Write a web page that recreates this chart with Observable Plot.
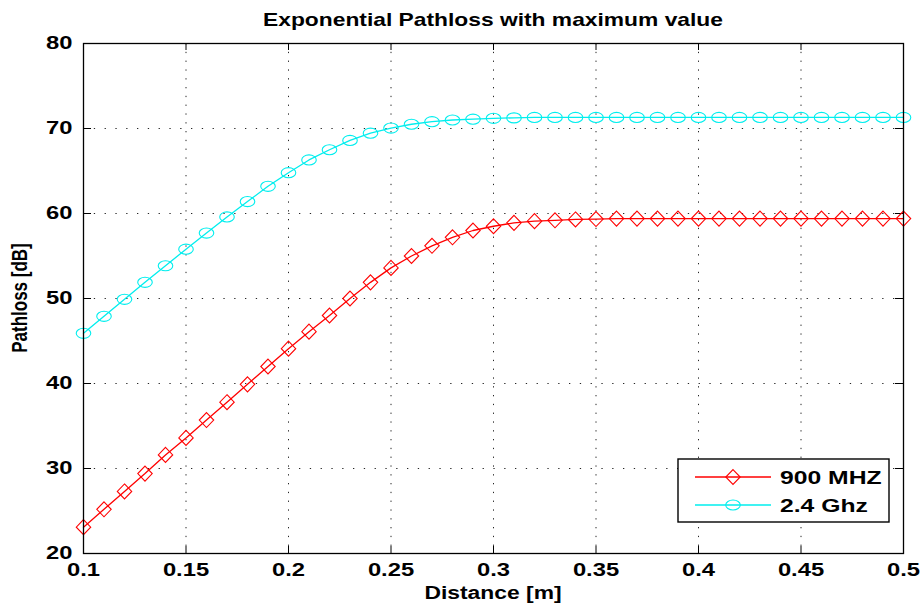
<!DOCTYPE html>
<html><head><meta charset="utf-8">
<script src="https://cdn.jsdelivr.net/npm/d3@7"></script>
<script src="https://cdn.jsdelivr.net/npm/@observablehq/plot@0.6"></script>
<style>
html,body{margin:0;padding:0;background:#fff;overflow:hidden}
#wrap{position:relative;width:922px;height:605px}
#wrap svg{position:absolute;left:0;top:0}
</style></head><body><div id="wrap"></div>
<script>
// ---- data ----
const distance = [0.10,0.11,0.12,0.13,0.14,0.15,0.16,0.17,0.18,0.19,0.20,0.21,0.22,0.23,0.24,0.25,0.26,0.27,0.28,0.29,0.30,0.31,0.32,0.33,0.34,0.35,0.36,0.37,0.38,0.39,0.40,0.41,0.42,0.43,0.44,0.45,0.46,0.47,0.48,0.49,0.50];
const pathloss900 = [23.1,25.2,27.3,29.4,31.6,33.6,35.7,37.8,39.9,42.0,44.1,46.1,48.0,50.0,51.9,53.6,55.0,56.2,57.2,58.0,58.5,58.9,59.1,59.2,59.3,59.35,59.4,59.4,59.4,59.4,59.4,59.4,59.4,59.4,59.4,59.4,59.4,59.4,59.4,59.4,59.4];
const pathloss24 = [45.9,47.9,49.9,51.9,53.85,55.8,57.7,59.6,61.4,63.2,64.8,66.3,67.5,68.6,69.45,70.05,70.5,70.8,71.0,71.1,71.2,71.25,71.3,71.3,71.3,71.3,71.3,71.3,71.3,71.3,71.3,71.3,71.3,71.3,71.3,71.3,71.3,71.3,71.3,71.3,71.3];
const seriesNames = ["900 MHZ", "2.4 Ghz"];
const seriesColors = ["#ff0000", "#00eeee"];
const xTicks = [0.1,0.15,0.2,0.25,0.3,0.35,0.4,0.45,0.5];
const xTickLabels = ["0.1","0.15","0.2","0.25","0.3","0.35","0.4","0.45","0.5"];
const yTicks = [20,30,40,50,60,70,80];
const yTickLabels = ["20","30","40","50","60","70","80"];
const titleText = "Exponential Pathloss with maximum value";
const xLabelText = "Distance [m]";
const yLabelText = "Pathloss [dB]";

// ---- layout ----
const W = 922, H = 605, mL = 83, mR = 19, mT = 43, mB = 52;
const plotW = W - mL - mR, plotH = H - mT - mB;
const FONT = "'Liberation Sans', Arial, Helvetica, sans-serif";
const STRETCH = 1.32;

// custom marker symbols
const ellipseSym = {draw(ctx, size) {
  const r = Math.sqrt(size / Math.PI), rx = r * 1.04, ry = r * 0.72, k = 0.5523;
  ctx.moveTo(rx, 0);
  ctx.bezierCurveTo(rx, k*ry, k*rx, ry, 0, ry);
  ctx.bezierCurveTo(-k*rx, ry, -rx, k*ry, -rx, 0);
  ctx.bezierCurveTo(-rx, -k*ry, -k*rx, -ry, 0, -ry);
  ctx.bezierCurveTo(k*rx, -ry, rx, -k*ry, rx, 0);
  ctx.closePath();
}};
const diamondSym = {draw(ctx, size) {
  const r = Math.sqrt(size / Math.PI), w = r * 1.03, h = r * 1.07;
  ctx.moveTo(0, -h); ctx.lineTo(w, 0); ctx.lineTo(0, h); ctx.lineTo(-w, 0); ctx.closePath();
}};
const symbols = [diamondSym, ellipseSym];
const seriesValues = [pathloss900, pathloss24];

const seriesMarks = seriesValues.flatMap((vals, s) => [
  Plot.line(vals, {x: distance, y: vals, stroke: seriesColors[s], strokeWidth: 1.3}),
  Plot.dot(vals, {x: distance, y: vals, symbol: symbols[s], r: 7, stroke: seriesColors[s], fill: "none", strokeWidth: 1.1})
]);

const chart = Plot.plot({
  width: W, height: H,
  marginLeft: mL, marginRight: mR, marginTop: mT, marginBottom: mB,
  style: {fontFamily: FONT, fontSize: "18px", fontWeight: "bold", color: "#000", background: "transparent"},
  x: {domain: [0.1, 0.5], label: null},
  y: {domain: [20, 80], label: null},
  marks: [
    Plot.gridX(xTicks, {stroke: "#000", strokeOpacity: 0.85, strokeDasharray: "1.3,7.5"}),
    Plot.gridY(yTicks, {stroke: "#000", strokeOpacity: 0.85, strokeDasharray: "1.3,9.5"}),
    Plot.ruleX(xTicks, {stroke: "#000", insetTop: plotH - 7}),
    Plot.ruleX(xTicks, {stroke: "#000", insetBottom: plotH - 7}),
    Plot.ruleY(yTicks, {stroke: "#000", insetRight: plotW - 8}),
    Plot.ruleY(yTicks, {stroke: "#000", insetLeft: plotW - 8}),
    ...seriesMarks,
    Plot.frame({stroke: "#000", strokeWidth: 1.3}),
    Plot.axisX({ticks: xTicks, tickFormat: d => xTickLabels[xTicks.indexOf(d)], tickSize: 0, tickPadding: 10, fontSize: 18, fontWeight: "bold", label: null}),
    Plot.axisY({ticks: yTicks, tickFormat: d => yTickLabels[yTicks.indexOf(d)], tickSize: 0, tickPadding: 11, fontSize: 18, fontWeight: "bold", label: null})
  ]
});
const wrap = document.getElementById("wrap");
wrap.appendChild(chart);

function stretch(sel, f) {
  sel.each(function() {
    const L = this.getComputedTextLength();
    if (L > 0) {
      this.setAttribute("textLength", (L * f).toFixed(2));
      this.setAttribute("lengthAdjust", "spacingAndGlyphs");
    }
  });
}
stretch(d3.select(chart).selectAll("text"), STRETCH);

// ---- overlay: title, axis labels, legend ----
const ov = d3.select(wrap).append("svg")
  .attr("width", W).attr("height", H)
  .style("font-family", FONT).style("font-weight", "bold").style("pointer-events", "none");
const cx = mL + plotW / 2;
const t1 = ov.append("text").attr("x", cx).attr("y", 26).attr("text-anchor", "middle")
  .attr("font-size", 19).text(titleText);
stretch(t1, 1.2);
const t2 = ov.append("text").attr("x", cx).attr("y", 599).attr("text-anchor", "middle")
  .attr("font-size", 18).text(xLabelText);
stretch(t2, 1.27);
ov.append("text").attr("transform", `translate(27,${mT + plotH / 2}) rotate(-90) scale(1,1.25)`)
  .attr("text-anchor", "middle").attr("font-size", 17).text(yLabelText);

// legend
const lg = {x: W - mR - 14 - 211, y: H - mB - 31 - 63, w: 211, h: 63};
const g = ov.append("g");
g.append("rect").attr("x", lg.x).attr("y", lg.y).attr("width", lg.w).attr("height", lg.h)
  .attr("fill", "#fff").attr("stroke", "#000").attr("stroke-width", 1.4);
seriesNames.forEach((name, i) => {
  const yy = lg.y + 18 + i * 28;
  g.append("line").attr("x1", lg.x + 17).attr("x2", lg.x + 93).attr("y1", yy).attr("y2", yy)
    .attr("stroke", seriesColors[i]).attr("stroke-width", 1.3);
  g.append("path").attr("transform", `translate(${lg.x + 55},${yy})`)
    .attr("d", d3.symbol().type(symbols[i]).size(Math.PI * 49)())
    .attr("fill", "none").attr("stroke", seriesColors[i]).attr("stroke-width", 1.1);
  const tx = g.append("text").attr("x", lg.x + 102).attr("y", yy + 7).attr("font-size", 19).text(name);
  stretch(tx, 1.3);
});
</script></body></html>
